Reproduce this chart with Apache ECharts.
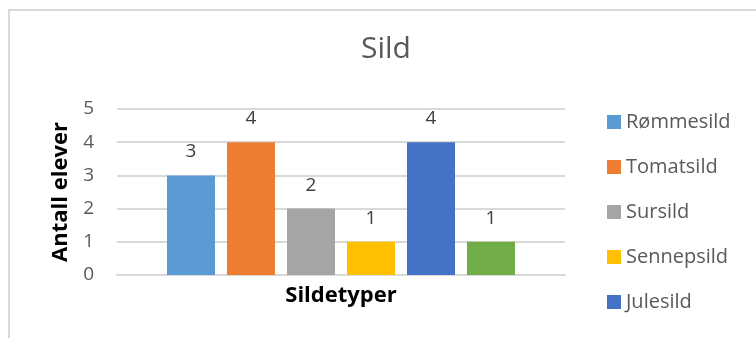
<!DOCTYPE html>
<html>
<head>
<meta charset="utf-8">
<script src="https://cdn.jsdelivr.net/npm/echarts@6/dist/echarts.min.js"></script>
<style>
  html, body { margin: 0; padding: 0; background: #fff; }
  #chart { width: 756px; height: 338px; }
</style>
</head>
<body>
<div id="chart"></div>
<script>
// Herring types and how many pupils chose each
const categories = ['Sildetyper'];
const seriesNames = ['Rømmesild', 'Tomatsild', 'Sursild', 'Sennepsild', 'Julesild', 'Kryddersild'];
const values = [3, 4, 2, 1, 4, 1];
const legendNames = ['Rømmesild', 'Tomatsild', 'Sursild', 'Sennepsild', 'Julesild'];
const colors = ['#5b9bd5', '#ed7d31', '#a5a5a5', '#ffc000', '#4472c4', '#70ad47'];

const FONT = "'Open Sans', 'Noto Sans', sans-serif";
const chart = echarts.init(document.getElementById('chart'), null, { renderer: 'canvas' });

const series = seriesNames.map((name, i) => ({
  name: name,
  type: 'bar',
  data: [values[i]],
  barWidth: 48,
  barGap: '25%',
  itemStyle: { color: colors[i] },
  label: {
    show: true,
    position: 'top',
    distance: 14,
    color: '#404040',
    fontFamily: FONT,
    fontSize: 19
  }
}));

chart.setOption({
  animation: false,
  backgroundColor: '#ffffff',
  color: colors,
  graphic: [{
    type: 'rect',
    shape: { x: 9, y: 10, width: 800, height: 400 },
    style: { fill: 'none', stroke: '#d9d9d9', lineWidth: 2 },
    silent: true
  }],
  title: {
    text: 'Sild',
    left: 386,
    textAlign: 'center',
    top: 34,
    padding: 0,
    textStyle: { fontFamily: FONT, fontSize: 30, fontWeight: 'normal', color: '#595959' }
  },
  legend: {
    data: legendNames,
    orient: 'vertical',
    left: 607,
    top: 112,
    padding: 0,
    itemWidth: 14,
    itemHeight: 14,
    itemGap: 25,
    icon: 'rect',
    textStyle: { fontFamily: FONT, fontSize: 20, color: '#595959' }
  },
  grid: { left: 117, right: 191, top: 109, bottom: 63, containLabel: false },
  xAxis: {
    type: 'category',
    data: categories,
    name: 'Sildetyper',
    nameLocation: 'middle',
    nameGap: 10,
    nameTextStyle: { fontFamily: FONT, fontSize: 22, fontWeight: 'bold', color: '#000' },
    axisLine: { lineStyle: { color: '#d9d9d9', width: 2 } },
    axisTick: { show: false },
    axisLabel: { show: false }
  },
  yAxis: {
    type: 'value',
    min: 0,
    max: 5,
    interval: 1,
    name: 'Antall elever',
    nameLocation: 'middle',
    nameGap: 45,
    nameTextStyle: { fontFamily: FONT, fontSize: 22, fontWeight: 'bold', color: '#000' },
    axisLine: { show: false },
    axisTick: { show: false },
    axisLabel: { margin: 23, fontFamily: FONT, fontSize: 19, color: '#595959' },
    splitLine: { lineStyle: { color: '#d9d9d9', width: 2 } }
  },
  series: series
});
</script>
</body>
</html>
